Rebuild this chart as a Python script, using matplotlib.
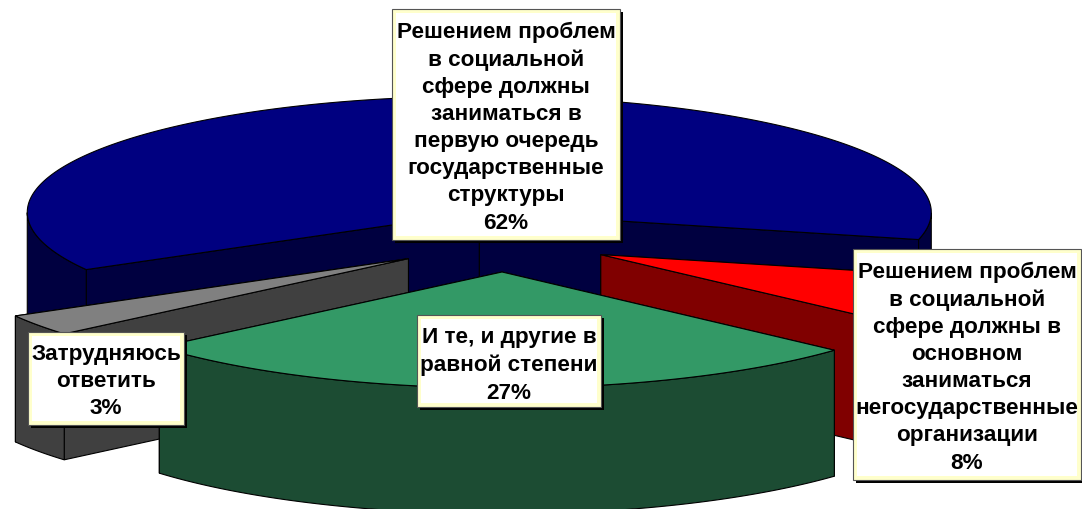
import numpy as np
import matplotlib
matplotlib.use("Agg")
import matplotlib.pyplot as plt
from matplotlib.patches import Polygon, Rectangle

# data
labels = [
    "Решением проблем\nв социальной\nсфере должны\nзаниматься в\nпервую очередь\nгосударственные\nструктуры",
    "Решением проблем\nв социальной\nсфере должны в\nосновном\nзаниматься\nнегосударственные\nорганизации",
    "И те, и другие в\nравной степени",
    "Затрудняюсь\nответить",
]
values = [62, 8, 27, 3]

# styles / layout
top_colors = ["#000080", "#FF0000", "#339966", "#808080"]
side_colors = ["#000040", "#800000", "#1C4C33", "#404040"]
draw_order = [0, 1, 3, 2]
label_boxes = [(392, 10, 620, 241), (853, 250, 1081, 481), (417, 316, 601, 408), (28, 333, 184, 426)]
text_shift = [2, 2, 3.5, 2]
nudge = [(-6, 0), (0, 0), (3, 2), (0, 1)]
radius_x = [452, 452, 450, 452]

CX, CY, B = 501, 242, 116
DEPTH, EXPLODE, START = 126, 0.25, -150.4
FS, LS = 16.2, 1.385

plt.rcParams['font.family'] = ['Liberation Sans', 'DejaVu Sans']
fig = plt.figure(figsize=(10.82, 5.10), dpi=100)
ax = fig.add_axes([0, 0, 1, 1])
ax.set_xlim(0, 1082)
ax.set_ylim(510, 0)
ax.axis('off')

vals = np.array(values, float)
sweeps = vals / vals.sum() * 360
starts = START - np.concatenate([[0], np.cumsum(sweeps)[:-1]])


def pt(ox, oy, deg, a):
    r = np.radians(deg)
    return ox + a * np.cos(r), oy - B * np.sin(r)


for i in draw_order:
    A = radius_x[i]
    t0, t1 = starts[i], starts[i] - sweeps[i]
    mid = np.radians((t0 + t1) / 2)
    ox = CX + EXPLODE * 452 * np.cos(mid) + nudge[i][0]
    oy = CY - EXPLODE * B * np.sin(mid) + nudge[i][1]
    style = dict(edgecolor='black', lw=0.8, joinstyle='miter')
    # radial cut faces, back one first
    corners = sorted([t0, t1], key=lambda d: pt(ox, oy, d, A)[1])
    for d in corners:
        x, y = pt(ox, oy, d, A)
        ax.add_patch(Polygon([(ox, oy), (x, y), (x, y + DEPTH), (ox, oy + DEPTH)],
                             closed=True, facecolor=side_colors[i], **style))
    # outer wall: only the front half of the ellipse is visible
    ts = np.linspace(t0, t1, 721)
    front = np.sin(np.radians(ts)) <= 1e-9
    idx = np.where(front)[0]
    if len(idx):
        for seg in np.split(idx, np.where(np.diff(idx) > 1)[0] + 1):
            if len(seg) < 2:
                continue
            x, y = pt(ox, oy, ts[seg], A)
            poly = np.vstack([np.c_[x, y], np.c_[x[::-1], y[::-1] + DEPTH]])
            ax.add_patch(Polygon(poly, closed=True, facecolor=side_colors[i], **style))
    # top face
    x, y = pt(ox, oy, ts, A)
    poly = np.vstack([[ox, oy], np.c_[x, y]])
    ax.add_patch(Polygon(poly, closed=True, facecolor=top_colors[i], **style))

# labels
for name, v, (x0, y0, x1, y1), dy in zip(labels, values, label_boxes, text_shift):
    w, h = x1 - x0, y1 - y0
    ax.add_patch(Rectangle((x0 + 3, y0 + 3), w, h, facecolor='black', edgecolor='none', zorder=10))
    ax.add_patch(Rectangle((x0, y0), w, h, facecolor='#FFFFCC', edgecolor='#555555', lw=0.8, zorder=11))
    ax.add_patch(Rectangle((x0 + 4, y0 + 4), w - 8, h - 8, facecolor='white', edgecolor='none', zorder=12))
    ax.text((x0 + x1) / 2, (y0 + y1) / 2 + dy, f"{name}\n{v}%", ha='center', va='center',
            fontsize=FS, fontweight='bold', color='black', linespacing=LS, zorder=13)

fig.savefig("out.png", dpi=100)
